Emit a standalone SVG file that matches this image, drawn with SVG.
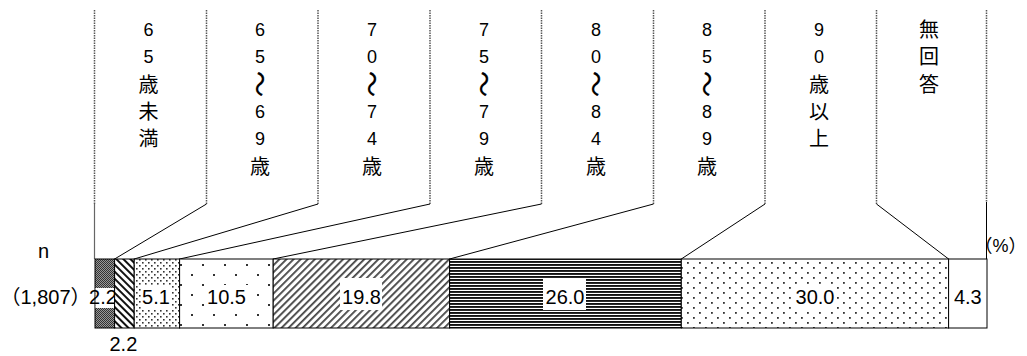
<svg xmlns="http://www.w3.org/2000/svg" width="1027" height="356" viewBox="0 0 1027 356">
<style>
.d{font-family:"Liberation Sans","Noto Sans CJK JP",sans-serif;font-size:18px;fill:#000;text-anchor:middle}
.k{font-family:"Noto Sans CJK JP","Liberation Sans",sans-serif;font-size:20px;fill:#000;text-anchor:middle}
.t{font-family:"Noto Sans CJK JP","Liberation Sans",sans-serif;font-size:26px;fill:#000;stroke:#000;stroke-width:0.2;text-anchor:middle}
.v{font-family:"Liberation Sans","Noto Sans CJK JP",sans-serif;font-size:20px;fill:#000;text-anchor:middle}
.vs{font-family:"Liberation Sans","Noto Sans CJK JP",sans-serif;font-size:20px;fill:#000;text-anchor:start}
.ve{font-family:"Liberation Sans","Noto Sans CJK JP",sans-serif;font-size:18px;fill:#000;text-anchor:end}
.seg{stroke:#000;stroke-width:1}
.dot{stroke:#555;stroke-width:1.5;stroke-dasharray:1.5 1;fill:none}
.ln{stroke:#000;stroke-width:1;fill:none}
.box{fill:#fff}
</style>
<defs>
<pattern id="p1" width="2" height="2" patternUnits="userSpaceOnUse">
<rect width="2" height="2" fill="#999"/><rect width="1" height="1" fill="#333"/><rect x="1" y="1" width="1" height="1" fill="#333"/>
</pattern>
<pattern id="p2" width="6" height="5" patternUnits="userSpaceOnUse" patternTransform="rotate(45)">
<rect width="6" height="5" fill="#fff"/><rect width="6" height="2" fill="#111"/>
</pattern>
<pattern id="p3" width="6" height="6" patternUnits="userSpaceOnUse">
<rect width="6" height="6" fill="#fff"/><rect x="1" y="1" width="1.6" height="1.6" fill="#333"/><rect x="4" y="4" width="1.6" height="1.6" fill="#333"/>
</pattern>
<pattern id="p4" width="22" height="20" patternUnits="userSpaceOnUse">
<rect width="22" height="20" fill="#fff"/><rect x="4" y="4" width="2" height="2" fill="#333"/><rect x="15" y="14" width="2" height="2" fill="#333"/>
</pattern>
<pattern id="p5" width="6" height="5" patternUnits="userSpaceOnUse" patternTransform="rotate(-45)">
<rect width="6" height="5" fill="#fff"/><rect width="6" height="1.8" fill="#444"/>
</pattern>
<pattern id="p6" width="4" height="3" patternUnits="userSpaceOnUse">
<rect width="4" height="3" fill="#fff"/><rect width="4" height="1.9" fill="#111"/>
</pattern>
<pattern id="p7" width="12" height="10" patternUnits="userSpaceOnUse">
<rect width="12" height="10" fill="#fff"/><rect x="3" y="2" width="1.8" height="1.8" fill="#333"/><rect x="9" y="7" width="1.8" height="1.8" fill="#333"/>
</pattern>
</defs>

<g id="connectors">
<line class="dot" x1="94.5" y1="10" x2="94.5" y2="204"/>
<line class="dot" x1="206.5" y1="10" x2="206.5" y2="204"/>
<line class="dot" x1="318" y1="10" x2="318" y2="204"/>
<line class="dot" x1="430" y1="10" x2="430" y2="204"/>
<line class="dot" x1="541.5" y1="10" x2="541.5" y2="204"/>
<line class="dot" x1="653.5" y1="10" x2="653.5" y2="204"/>
<line class="dot" x1="765" y1="10" x2="765" y2="204"/>
<line class="dot" x1="876.5" y1="10" x2="876.5" y2="204"/>
<line class="dot" x1="986.5" y1="10" x2="986.5" y2="202"/>
<line x1="94.5" y1="204" x2="94.5" y2="259" stroke="#666" stroke-width="1.2"/>
<line class="ln" x1="986.5" y1="202" x2="986.5" y2="259"/>
<line class="ln" x1="206.5" y1="204" x2="114.6" y2="259"/>
<line class="ln" x1="318" y1="204" x2="134.2" y2="259"/>
<line class="ln" x1="430" y1="204" x2="179.6" y2="259"/>
<line class="ln" x1="541.5" y1="204" x2="273.2" y2="259"/>
<line class="ln" x1="653.5" y1="204" x2="449.6" y2="259"/>
<line class="ln" x1="765" y1="204" x2="681.3" y2="259"/>
<line class="ln" x1="876.5" y1="204" x2="948.6" y2="259"/>
</g>

<g id="axis-labels">
<text class="v" x="43.5" y="258">n</text>
<text class="vs" x="0.5" y="303.5">（1,807）</text>
<text class="ve" x="1026.5" y="252">（%）</text>
</g>

<g id="age-under65">
<text class="d" x="148.5" y="35.5">6</text>
<text class="d" x="148.5" y="63">5</text>
<text class="k" x="148.5" y="91.6">歳</text>
<text class="k" x="148.5" y="118.9">未</text>
<text class="k" x="148.5" y="146.2">満</text>
<rect class="seg" x="95" y="259" width="19.6" height="69" fill="url(#p1)"/>
<rect class="box" x="95.5" y="288" width="18.6" height="20"/>
<text class="v" x="103" y="303.5">2.2</text>
</g>

<g id="age-65-69">
<text class="d" x="260" y="35.5">6</text>
<text class="d" x="260" y="63">5</text>
<text class="t" x="260" y="93.9" transform="rotate(90 260 84)">～</text>
<text class="d" x="260" y="117.8">6</text>
<text class="d" x="260" y="145.1">9</text>
<text class="k" x="260" y="173.6">歳</text>
<rect class="seg" x="114.6" y="259" width="19.6" height="69" fill="url(#p2)"/>
<text class="v" x="123.4" y="350.7">2.2</text>
</g>

<g id="age-70-74">
<text class="d" x="372" y="35.5">7</text>
<text class="d" x="372" y="63">0</text>
<text class="t" x="372" y="93.9" transform="rotate(90 372 84)">～</text>
<text class="d" x="372" y="117.8">7</text>
<text class="d" x="372" y="145.1">4</text>
<text class="k" x="372" y="173.6">歳</text>
<rect class="seg" x="134.2" y="259" width="45.4" height="69" fill="url(#p3)"/>
<rect class="box" x="141" y="285" width="30" height="24"/>
<text class="v" x="156" y="303.5">5.1</text>
</g>

<g id="age-75-79">
<text class="d" x="484" y="35.5">7</text>
<text class="d" x="484" y="63">5</text>
<text class="t" x="484" y="93.9" transform="rotate(90 484 84)">～</text>
<text class="d" x="484" y="117.8">7</text>
<text class="d" x="484" y="145.1">9</text>
<text class="k" x="484" y="173.6">歳</text>
<rect class="seg" x="179.6" y="259" width="93.6" height="69" fill="url(#p4)"/>
<rect class="box" x="205" y="285" width="43" height="24"/>
<text class="v" x="226.5" y="303.5">10.5</text>
</g>

<g id="age-80-84">
<text class="d" x="596" y="35.5">8</text>
<text class="d" x="596" y="63">0</text>
<text class="t" x="596" y="93.9" transform="rotate(90 596 84)">～</text>
<text class="d" x="596" y="117.8">8</text>
<text class="d" x="596" y="145.1">4</text>
<text class="k" x="596" y="173.6">歳</text>
<rect class="seg" x="273.2" y="259" width="176.4" height="69" fill="url(#p5)"/>
<rect class="box" x="340" y="278" width="42" height="32"/>
<text class="v" x="361.5" y="303.5">19.8</text>
</g>

<g id="age-85-89">
<text class="d" x="707" y="35.5">8</text>
<text class="d" x="707" y="63">5</text>
<text class="t" x="707" y="93.9" transform="rotate(90 707 84)">～</text>
<text class="d" x="707" y="117.8">8</text>
<text class="d" x="707" y="145.1">9</text>
<text class="k" x="707" y="173.6">歳</text>
<rect class="seg" x="449.6" y="259" width="231.7" height="69" fill="url(#p6)"/>
<rect class="box" x="543" y="278" width="43" height="32"/>
<text class="v" x="565" y="303.5">26.0</text>
</g>

<g id="age-90plus">
<text class="d" x="819" y="35.5">9</text>
<text class="d" x="819" y="63">0</text>
<text class="k" x="819" y="91.6">歳</text>
<text class="k" x="819" y="118.9">以</text>
<text class="k" x="819" y="146.2">上</text>
<rect class="seg" x="681.3" y="259" width="267.3" height="69" fill="url(#p7)"/>
<rect class="box" x="793" y="285" width="44" height="24"/>
<text class="v" x="815" y="303.5">30.0</text>
</g>

<g id="no-answer">
<text class="k" x="929" y="36.6">無</text>
<text class="k" x="929" y="64.1">回</text>
<text class="k" x="929" y="91.6">答</text>
<rect class="seg" x="948.6" y="259" width="38.4" height="69" fill="#fff"/>
<text class="v" x="967.8" y="303.5">4.3</text>
</g>
</svg>
